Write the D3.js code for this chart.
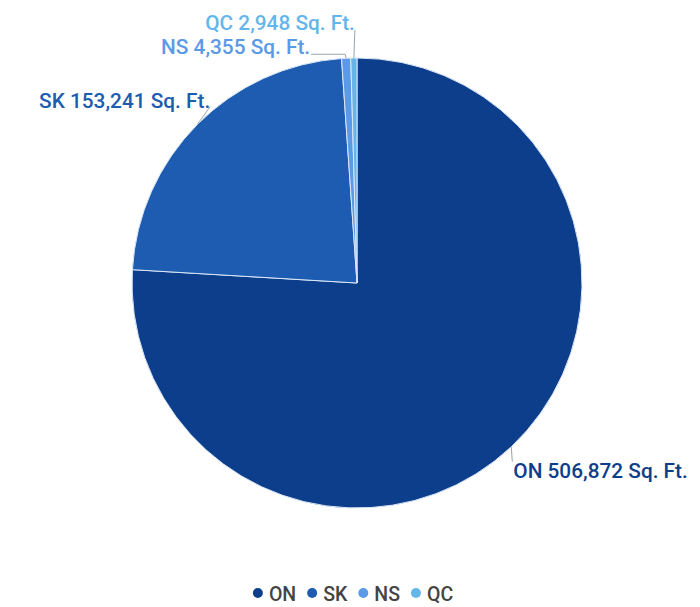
<!DOCTYPE html>
<html>
<head>
<meta charset="utf-8">
<script src="https://cdn.jsdelivr.net/npm/d3@7/dist/d3.min.js"></script>
<style>
  html, body { margin: 0; padding: 0; background: #fff; }
  svg { display: block; font-family: Roboto, "Noto Sans", sans-serif; }
</style>
</head>
<body>
<svg id="chart" width="700" height="607"></svg>
<script>
// Floor area by province
const provinces = ["ON", "SK", "NS", "QC"];
const areas = [506872, 153241, 4355, 2948];
const colors = ["#0d3e8c", "#1d5cb0", "#5b9ae6", "#64b6ea"];

const width = 700, height = 607;
const cx = 357, cy = 283, radius = 225;

// Label placement relative to each slice's outer midpoint
const labelLayout = {
  ON: { path: [[0, 0], [1, 15]], anchor: "start", tx: 2, ty: 31 },
  SK: { path: [[0, 0], [13, -18]], anchor: "end", tx: 13, ty: -17 },
  NS: { path: [[0, 0], [-1, -4], [-35, -4]], anchor: "end", tx: -36, ty: -4 },
  QC: { path: [[0, 0], [1, -28]], anchor: "end", tx: 1, ty: -28 }
};

const data = provinces.map((p, i) => ({ name: p, value: areas[i], color: colors[i] }));
const fmt = d3.format(",");

const svg = d3.select("#chart");
const g = svg.append("g").attr("transform", `translate(${cx},${cy})`);

const pie = d3.pie().value(d => d.value).sort(null);
const arc = d3.arc().innerRadius(0).outerRadius(radius);
const arcs = pie(data);

g.selectAll("path.slice")
  .data(arcs)
  .join("path")
  .attr("class", "slice")
  .attr("d", arc)
  .attr("fill", d => d.data.color)
  .attr("stroke", "#dbe8f7")
  .attr("stroke-width", 1);

// Outer midpoint of each slice
function edgePoint(d) {
  const a = (d.startAngle + d.endAngle) / 2;
  return [Math.sin(a) * radius, -Math.cos(a) * radius];
}

const labels = g.selectAll("g.label").data(arcs).join("g").attr("class", "label");

labels.append("path")
  .attr("d", d => {
    const [x, y] = edgePoint(d);
    const L = labelLayout[d.data.name];
    return d3.line()(L.path.map(([dx, dy]) => [x + dx, y + dy]));
  })
  .attr("fill", "none")
  .attr("stroke", "#9aa3ad")
  .attr("stroke-width", 1);

labels.append("text")
  .attr("x", d => edgePoint(d)[0] + labelLayout[d.data.name].tx)
  .attr("y", d => edgePoint(d)[1] + labelLayout[d.data.name].ty)
  .attr("text-anchor", d => labelLayout[d.data.name].anchor)
  .attr("fill", d => d.data.color)
  .attr("font-size", 20.8)
  .attr("font-weight", 500)
  .text(d => `${d.data.name} ${fmt(d.data.value)} Sq. Ft.`);

// Legend: dot, then label, in a centred row
const legend = svg.append("g").attr("transform", `translate(0, 593)`);
const items = legend.selectAll("g").data(data).join("g");
items.append("circle").attr("r", 5).attr("fill", d => d.color);
items.append("text")
  .attr("x", 11)
  .attr("y", 1)
  .attr("dy", "0.36em")
  .attr("fill", "#444")
  .attr("font-size", 19.5)
  .attr("font-weight", 500)
  .text(d => d.name);

const gap = 16;
const textWidths = [];
items.select("text").each(function () { textWidths.push(this.getComputedTextLength()); });
const step = textWidths.map(w => 11 + w + gap);
const total = d3.sum(step) - gap + 5;
let x = 353 - total / 2 + 5;
items.attr("transform", (d, i) => {
  const t = `translate(${x},0)`;
  x += step[i];
  return t;
});
</script>
</body>
</html>
